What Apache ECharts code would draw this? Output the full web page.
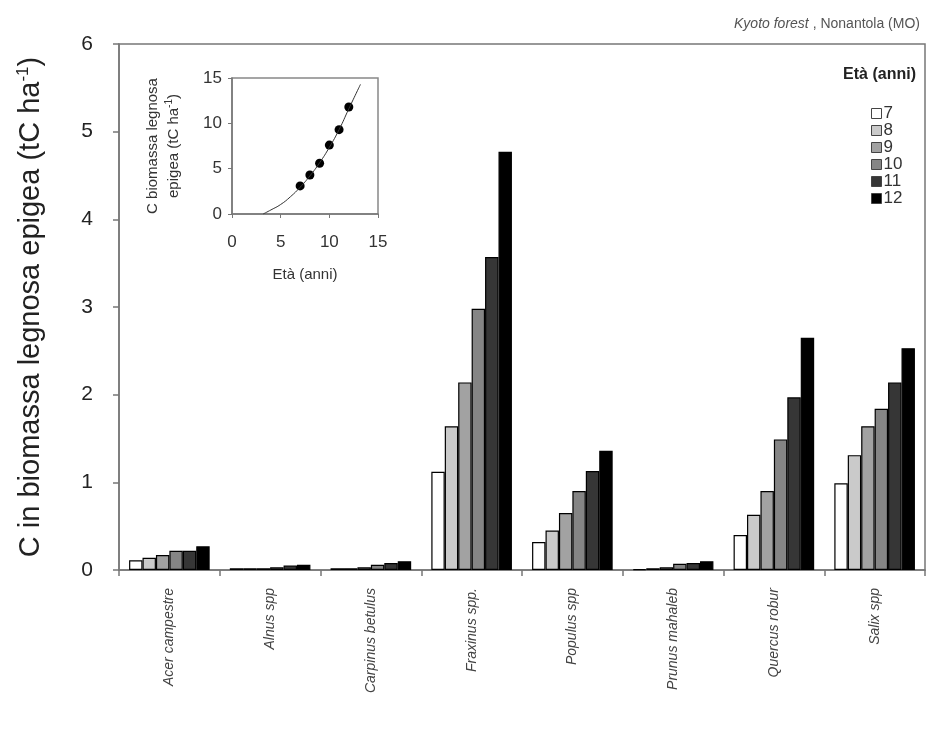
<!DOCTYPE html>
<html>
<head>
<meta charset="utf-8">
<script src="https://cdn.jsdelivr.net/npm/echarts@6/dist/echarts.min.js"></script>
<style>
  html, body { margin: 0; padding: 0; background: #fff; }
  #chart { width: 927px; height: 740px; }
</style>
</head>
<body>
<div id="chart"></div>
<script>
// specie (asse x)
var species = ["Acer campestre", "Alnus spp", "Carpinus betulus", "Fraxinus spp.",
  "Populus spp", "Prunus mahaleb", "Quercus robur", "Salix spp"];
// età (anni) = serie
var ages = ["7", "8", "9", "10", "11", "12"];
// valori per età, una voce per specie (tC ha-1)
var age7 = [0.11, 0.02, 0.02, 1.12, 0.32, 0.01, 0.40, 0.99];
var age8 = [0.14, 0.02, 0.02, 1.64, 0.45, 0.02, 0.63, 1.31];
var age9 = [0.17, 0.02, 0.03, 2.14, 0.65, 0.03, 0.90, 1.64];
var age10 = [0.22, 0.03, 0.06, 2.98, 0.90, 0.07, 1.49, 1.84];
var age11 = [0.22, 0.05, 0.08, 3.57, 1.13, 0.08, 1.97, 2.14];
var age12 = [0.27, 0.06, 0.10, 4.77, 1.36, 0.10, 2.65, 2.53];
var yTicks = [0, 1, 2, 3, 4, 5, 6];

// grafico interno: totale per età
var insetPoints = [[7, 3.1], [8, 4.3], [9, 5.6], [10, 7.6], [11, 9.3], [12, 11.8]];
var insetCurve = [[3.2, 0], [4, 0.45], [5, 1.05], [6, 1.9], [7, 2.95], [8, 4.2],
  [9, 5.65], [10, 7.35], [11, 9.3], [12, 11.6], [13.2, 14.3]];

(function () {
  var myChart = echarts.init(document.querySelector("#chart"));
  var values = [age7, age8, age9, age10, age11, age12];
  var colors = ["#ffffff", "#cacaca", "#a2a2a2", "#858585", "#363636", "#000000"];
  var font = "Liberation Sans";

  var series = ages.map(function (a, i) {
    return {
      name: a,
      type: "bar",
      xAxisIndex: 0,
      yAxisIndex: 0,
      data: values[i],
      barGap: "0%",
      barCategoryGap: "20%",
      itemStyle: { color: colors[i], borderColor: "#000", borderWidth: 1.2 },
    };
  });
  //grafico interno
  series.push({
    type: "line",
    xAxisIndex: 1,
    yAxisIndex: 1,
    data: insetCurve,
    smooth: 0.5,
    symbol: "none",
    lineStyle: { color: "#333", width: 1 },
    silent: true,
  });
  series.push({
    type: "scatter",
    xAxisIndex: 1,
    yAxisIndex: 1,
    data: insetPoints,
    symbolSize: 9,
    itemStyle: { color: "#000", opacity: 1 },
  });

  var option = {
    backgroundColor: "#fff",
    animation: false,
    textStyle: { fontFamily: font },
    title: [
      {
        text: "{i|Kyoto forest} , Nonantola (MO)",
        right: 2,
        top: 12,
        textStyle: {
          fontSize: 14,
          fontWeight: "normal",
          color: "#555",
          fontFamily: font,
          rich: { i: { fontStyle: "italic", fontSize: 14, color: "#555", fontFamily: font } },
        },
      },
      {
        text: "Età (anni)",
        right: 6,
        top: 62,
        textStyle: { fontSize: 16, fontWeight: "bold", color: "#222", fontFamily: font },
      },
    ],
    legend: {
      orient: "vertical",
      left: 866,
      top: 100,
      itemWidth: 10,
      itemHeight: 10,
      itemGap: 0,
      data: ages,
      textStyle: { fontSize: 17, color: "#333", lineHeight: 16, padding: [0, 0, 0, -3] },
      itemStyle: { borderColor: "#444", borderWidth: 1 },
      icon: "rect",
    },
    grid: [
      {
        left: 119,
        right: 2,
        top: 44,
        bottom: 170,
        show: true,
        borderColor: "#777",
        borderWidth: 1.5,
      },
      {
        left: 232,
        top: 78,
        width: 146,
        height: 136,
        show: true,
        borderColor: "#888",
        borderWidth: 1.5,
      },
    ],
    xAxis: [
      {
        type: "category",
        gridIndex: 0,
        data: species,
        axisLine: { lineStyle: { color: "#777", width: 1.5 } },
        axisTick: { show: true, length: 6, lineStyle: { color: "#777", width: 1.5 } },
        axisLabel: {
          rotate: 90,
          fontSize: 14,
          fontStyle: "italic",
          color: "#444",
          margin: 18,
        },
      },
      {
        type: "value",
        gridIndex: 1,
        min: 0,
        max: 15,
        interval: 5,
        splitLine: { show: false },
        axisLine: { lineStyle: { color: "#777", width: 1.5 } },
        axisTick: { show: true, length: 4, lineStyle: { color: "#777" } },
        axisLabel: { fontSize: 17, color: "#333", margin: 20 },
        name: "Età (anni)",
        nameLocation: "middle",
        nameGap: 53,
        nameTextStyle: { fontSize: 15, color: "#333" },
      },
    ],
    yAxis: [
      {
        type: "value",
        gridIndex: 0,
        min: 0,
        max: 6,
        interval: 1,
        splitLine: { show: false },
        axisLine: { show: true, lineStyle: { color: "#777", width: 1.5 } },
        axisTick: { show: true, length: 6, lineStyle: { color: "#777", width: 1.5 } },
        axisLabel: {
          fontSize: 21,
          color: "#222",
          margin: 26,
          formatter: function (v) {
            return yTicks.indexOf(v) >= 0 ? String(v) : "";
          },
        },
        name: "C in biomassa legnosa epigea (tC ha{sup|-1})",
        nameLocation: "middle",
        nameGap: 72,
        nameTextStyle: {
          fontSize: 29,
          color: "#222",
          rich: { sup: { fontSize: 17, color: "#222", verticalAlign: "bottom", padding: [0, 0, 15, 0] } },
        },
      },
      {
        type: "value",
        gridIndex: 1,
        min: 0,
        max: 15,
        interval: 5,
        splitLine: { show: false },
        axisLine: { show: true, lineStyle: { color: "#777", width: 1.5 } },
        axisTick: { show: true, length: 4, lineStyle: { color: "#777" } },
        axisLabel: { fontSize: 17, color: "#333", margin: 10 },
        name: "C biomassa legnosa\nepigea (tC ha{sup|-1})",
        nameLocation: "middle",
        nameGap: 48,
        nameTextStyle: {
          fontSize: 15,
          color: "#333",
          lineHeight: 21,
          rich: { sup: { fontSize: 10, color: "#333", padding: [0, 0, 9, 0] } },
        },
      },
    ],
    series: series,
  };
  myChart.setOption(option);
})();
</script>
</body>
</html>
